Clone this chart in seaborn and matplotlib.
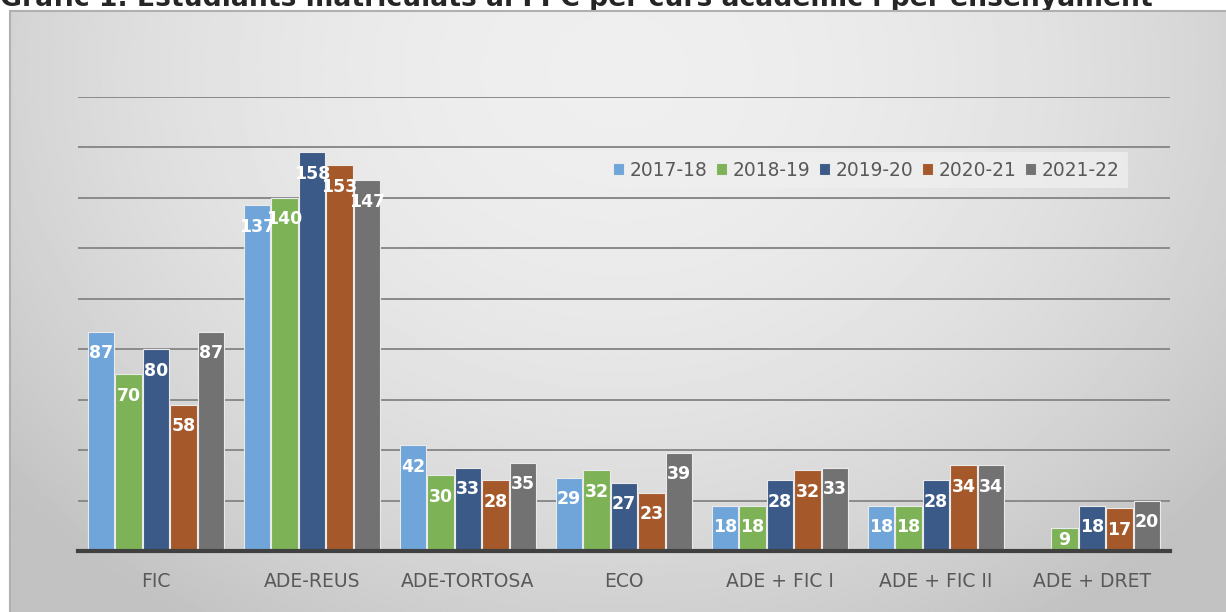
import numpy as np
import pandas as pd
import matplotlib
matplotlib.use("Agg")
import matplotlib.pyplot as plt
import seaborn as sns

# dades del gràfic
ensenyaments = ["FIC", "ADE-REUS", "ADE-TORTOSA", "ECO", "ADE + FIC I", "ADE + FIC II", "ADE + DRET"]
cursos = ["2017-18", "2018-19", "2019-20", "2020-21", "2021-22"]
v_2017_18 = [87, 137, 42, 29, 18, 18, np.nan]
v_2018_19 = [70, 140, 30, 32, 18, 18, 9]
v_2019_20 = [80, 158, 33, 27, 28, 28, 18]
v_2020_21 = [58, 153, 28, 23, 32, 34, 17]
v_2021_22 = [87, 147, 35, 39, 33, 34, 20]
colors = ["#6fa5d8", "#7db356", "#3c5a87", "#a5592a", "#727272"]
title = "Gràfic 1. Estudiants matriculats al FPC per curs acadèmic i per ensenyament"

series = [v_2017_18, v_2018_19, v_2019_20, v_2020_21, v_2021_22]
df = pd.DataFrame({
    "ensenyament": ensenyaments * len(cursos),
    "curs": [c for c in cursos for _ in ensenyaments],
    "alumnes": [v for s in series for v in s],
})

sns.set_style("white")
plt.rcParams["font.family"] = ["DejaVu Sans"]

fig = plt.figure(figsize=(12.26, 6.12), dpi=100)

# títol (mig tapat pel marc, com a l'original)
fig.text(0, 1 - 6 / 612, title, fontsize=19.2, fontweight="bold", ha="left", va="baseline", zorder=0)

# fons amb degradat
bg = fig.add_axes([10 / 1226, 0, 1216 / 1226, 601 / 612], zorder=1)
yy, xx = np.mgrid[0:1:300j, 0:1:600j]
d = np.sqrt(((xx - 0.5) / 0.62) ** 2 + ((yy - 0.1) / 1.05) ** 2)
shade = np.clip(0.935 - 0.16 * d ** 2, 0.76, 0.94)
bg.imshow(shade, cmap="gray", vmin=0, vmax=1, aspect="auto", extent=[0, 1, 0, 1], origin="upper")
bg.set_axis_off()
for x0, y0, x1, y1 in [(0, 1, 1, 1), (0, 0, 0, 1)]:
    bg.plot([x0, x1], [y0, y1], color="#b0b0b0", lw=1.5, transform=bg.transAxes, clip_on=False)

ax = fig.add_axes([78 / 1226, 61 / 612, 1092 / 1226, 454 / 612], zorder=2)
ax.patch.set_alpha(0)

sns.barplot(data=df, x="ensenyament", y="alumnes", hue="curs", palette=colors,
            width=0.88, gap=0.03, edgecolor="#eaeaea", linewidth=0.8, ax=ax,
            saturation=1, zorder=3)

ax.set_ylim(0, 180)
ax.set_xlim(-0.5, 6.5)
ax.set_yticks(np.arange(20, 181, 20))
ax.yaxis.grid(True, color="#8a8a8a", lw=1.4, zorder=0)
ax.set_axisbelow(True)
ax.tick_params(axis="y", left=False, labelleft=False)
ax.tick_params(axis="x", length=0, pad=15, labelsize=13.5, labelcolor="#595959")
ax.set_xlabel("")
ax.set_ylabel("")
for sp in ["top", "right", "left"]:
    ax.spines[sp].set_visible(False)
ax.spines["bottom"].set_color("#404040")
ax.spines["bottom"].set_linewidth(3)
ax.spines["bottom"].set_zorder(5)

# etiquetes dins les barres
for cont in ax.containers:
    for bar in cont:
        h = bar.get_height()
        if np.isnan(h) or h == 0:
            continue
        y = max(h - 8.5, h / 2)
        ax.text(bar.get_x() + bar.get_width() / 2, y, f"{int(h)}", ha="center", va="center",
                color="white", fontsize=12.5, fontweight="bold", zorder=6)

leg = ax.legend(loc="center left", bbox_to_anchor=(0.474, 0.839), ncol=5, frameon=True,
                fontsize=13.4, handlelength=0.6, handleheight=0.6, handletextpad=0.3,
                columnspacing=0.45, borderpad=0.45, fancybox=False)
leg.get_frame().set_facecolor("#efefef")
leg.get_frame().set_edgecolor("none")
for t in leg.get_texts():
    t.set_color("#595959")

fig.savefig("out.png", dpi=100)
